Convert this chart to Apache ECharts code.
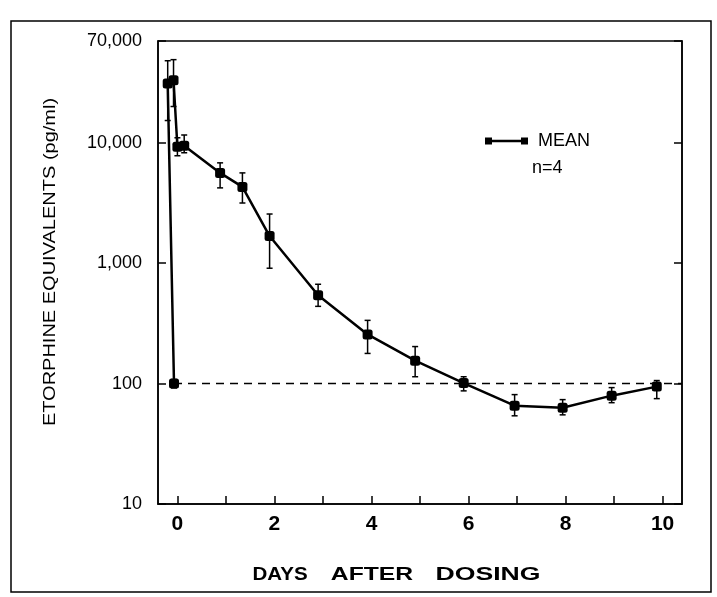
<!DOCTYPE html>
<html><head><meta charset="utf-8">
<script src="https://cdn.jsdelivr.net/npm/echarts@6/dist/echarts.min.js"></script>
<style>html,body{margin:0;padding:0;background:#fff}#c{width:717px;height:597px}</style>
</head><body><div id="c"></div>
<script>
// ---- data ----
const days        = [-0.07, -0.2, -0.08, 0.0, 0.14, 0.88, 1.34, 1.9, 2.9, 3.92, 4.9, 5.9, 6.95, 7.94, 8.95, 9.88];
const meanValues  = [100, 31000, 33000, 9260, 9450, 5620, 4300, 1680, 541, 256, 155, 101, 65.6, 63, 79.4, 94.4];
const upperValues = [108, 48000, 49000, 11000, 11600, 6810, 5620, 2560, 668, 335, 203, 114, 81, 73.6, 92.6, 106];
const lowerValues = [92, 15300, 20000, 7800, 8260, 4220, 3160, 908, 438, 178, 114, 87, 54, 55, 69.4, 75];
const baselineDays   = [-0.07, 10.4];
const baselineValues = [100, 100];
const xTickValues  = [0, 1, 2, 3, 4, 5, 6, 7, 8, 9, 10];
const xLabelValues = [0, 2, 4, 6, 8, 10];
const yTickLabels  = [10, 100, 1000, 10000, 70000];

const chart = echarts.init(document.getElementById('c'), null, {renderer: 'canvas'});
const F = '"Liberation Sans", Arial, Helvetica, sans-serif';

const option = {
  animation: false,
  backgroundColor: '#fff',
  grid: {left: 158, right: 35, top: 41, bottom: 93, show: true, borderColor: '#000', borderWidth: 1.5, backgroundColor: 'transparent'},
  legend: {
    left: 480, top: 127, itemWidth: 43, itemHeight: 7, selectedMode: false,
    data: [{name: 'MEAN', icon: 'path://M0,0h7v7h-7z M7,2.2h29v2.6h-29z M36,0h7v7h-7z'}],
    textStyle: {fontFamily: F, fontSize: 18, color: '#000', padding: [0, 0, 0, 5]}
  },
  xAxis: {
    type: 'value', min: -0.4, max: 10.4,
    axisLine: {show: true, onZero: false, lineStyle: {color: '#000', width: 1.5}},
    axisTick: {show: true, inside: true, length: 8, customValues: xTickValues, lineStyle: {color: '#000', width: 1.5}},
    axisLabel: {customValues: xLabelValues, color: '#000', fontFamily: F, fontWeight: 'bold', fontSize: 21, margin: 10},
    splitLine: {show: false}
  },
  yAxis: [{
    type: 'log', min: 10, max: 70000, logBase: 10,
    axisLine: {show: true, onZero: false, lineStyle: {color: '#000', width: 1.5}},
    axisTick: {show: true, inside: true, length: 8, lineStyle: {color: '#000', width: 1.5}},
    axisLabel: {color: '#000', fontFamily: F, fontSize: 18, margin: 16,
      formatter: v => Math.round(v).toLocaleString('en-US')},
    minorTick: {show: false},
    splitLine: {show: false}
  }, {
    type: 'log', min: 10, max: 70000, logBase: 10, position: 'right',
    axisLine: {show: true, onZero: false, lineStyle: {color: '#000', width: 1.5}},
    axisTick: {show: true, inside: true, length: 8, lineStyle: {color: '#000', width: 1.5}},
    axisLabel: {show: false},
    splitLine: {show: false}
  }],
  graphic: [
    {type: 'rect', shape: {x: 11, y: 21, width: 700, height: 571}, style: {fill: 'none', stroke: '#000', lineWidth: 1.5}, silent: true, z: -1},
    {type: 'text', x: 51, y: 262, rotation: Math.PI / 2, scaleX: 1.25,
      style: {text: 'ETORPHINE EQUIVALENTS (pg/ml)', font: '16px ' + F, fill: '#000', align: 'center', verticalAlign: 'middle'}},
    {type: 'text', x: 280, y: 575, scaleX: 1.08,
      style: {text: 'DAYS', font: 'bold 19px ' + F, fill: '#000', align: 'center', verticalAlign: 'middle'}},
    {type: 'text', x: 372, y: 575, scaleX: 1.3,
      style: {text: 'AFTER', font: 'bold 19px ' + F, fill: '#000', align: 'center', verticalAlign: 'middle'}},
    {type: 'text', x: 488, y: 575, scaleX: 1.4,
      style: {text: 'DOSING', font: 'bold 19px ' + F, fill: '#000', align: 'center', verticalAlign: 'middle'}},
    {type: 'text', x: 532, y: 168,
      style: {text: 'n=4', font: '18px ' + F, fill: '#000', align: 'left', verticalAlign: 'middle'}}
  ],
  series: [
    {
      type: 'line', name: 'baseline', silent: true,
      data: baselineDays.map((d, i) => [d, baselineValues[i]]),
      symbol: 'none', lineStyle: {color: '#000', width: 1.5, type: [8, 6]}, z: 1
    },
    {
      type: 'custom', name: 'sd', silent: true,
      data: days.map((d, i) => [d, lowerValues[i], upperValues[i]]),
      encode: {x: 0, y: [1, 2]},
      renderItem: function (params, api) {
        const x = api.value(0);
        const lo = api.coord([x, api.value(1)]);
        const hi = api.coord([x, api.value(2)]);
        const w = 3, st = {stroke: '#000', lineWidth: 1.5};
        return {type: 'group', children: [
          {type: 'line', shape: {x1: lo[0], y1: lo[1], x2: hi[0], y2: hi[1]}, style: st},
          {type: 'line', shape: {x1: lo[0] - w, y1: lo[1], x2: lo[0] + w, y2: lo[1]}, style: st},
          {type: 'line', shape: {x1: hi[0] - w, y1: hi[1], x2: hi[0] + w, y2: hi[1]}, style: st}
        ]};
      },
      z: 2
    },
    {
      type: 'line', name: 'MEAN',
      data: days.map((d, i) => [d, meanValues[i]]),
      symbol: 'roundRect', symbolSize: 10, showAllSymbol: true,
      itemStyle: {color: '#000'},
      lineStyle: {color: '#000', width: 2.5},
      emphasis: {disabled: true}, z: 3
    }
  ]
};
chart.setOption(option);
</script>
</body></html>
